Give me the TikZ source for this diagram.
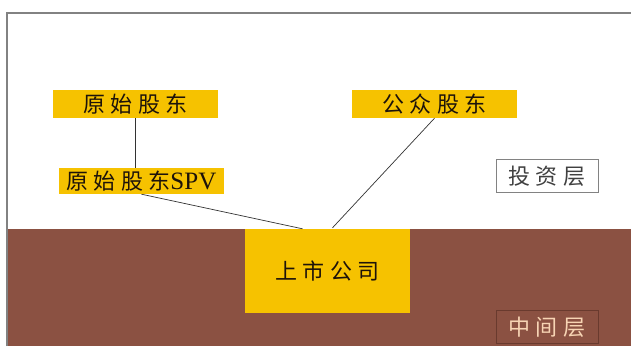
\documentclass[tikz,border=0pt]{standalone}
\usepackage{fontspec}
\setmainfont{Liberation Serif}
\newfontfamily\cjk[LetterSpace=24]{Noto Sans CJK SC}
\newfontfamily\latinsp{Liberation Serif}
\usetikzlibrary{calc}
\definecolor{boxyellow}{RGB}{246,194,0}
\definecolor{layerbrown}{RGB}{139,81,66}
\definecolor{darkbrown}{RGB}{105,58,46}
\definecolor{peach}{RGB}{247,212,180}
\definecolor{framegray}{RGB}{130,130,130}
\begin{document}
\begin{tikzpicture}[x=1pt,y=-1pt,
  ybox/.style={fill=boxyellow,draw=none,inner sep=0pt,minimum width=165pt,minimum height=28pt,font=\fontsize{22}{24}\selectfont\cjk,text=black!85!brown},
  layerbox/.style={inner sep=0pt,minimum width=102pt,minimum height=33pt,line width=1pt,font=\fontsize{22}{24}\selectfont\cjk},
  conn/.style={draw=black!80,line width=0.7pt}]
\useasboundingbox (0,0) rectangle (631,346);
\fill[white] (0,0) rectangle (631,346);
% brown lower layer
\fill[layerbrown] (7,229) rectangle (631,346);
% frame
\draw[framegray,line width=1.5pt] (7,346) -- (7,13) -- (631,13);
% nodes
\node[ybox] (a) at (135.5,104) {原始股东};
\node[ybox] (p) at (434.5,104) {公众股东};
\node[ybox,minimum height=26pt] (s) at (141.5,181) {原始股东{\latinsp\fontsize{25}{26}\selectfont SPV}};
\node[ybox,minimum height=84pt] (c) at (327.5,271) {上市公司};
\node[layerbox,draw=framegray,fill=white,text=black!75] (inv) at (547,176) {投资层};
\node[layerbox,draw=darkbrown,fill=layerbrown,text=peach] (mid) at (547,327) {中间层};
% connectors
\draw[conn] (a.south) -- (a.south |- s.north);
\draw[conn] (s.south) -- ($(c.north)+(-25,0)$);
\draw[conn] (p.south) -- ($(c.north)+(5,-1)$);
\end{tikzpicture}
\end{document}
